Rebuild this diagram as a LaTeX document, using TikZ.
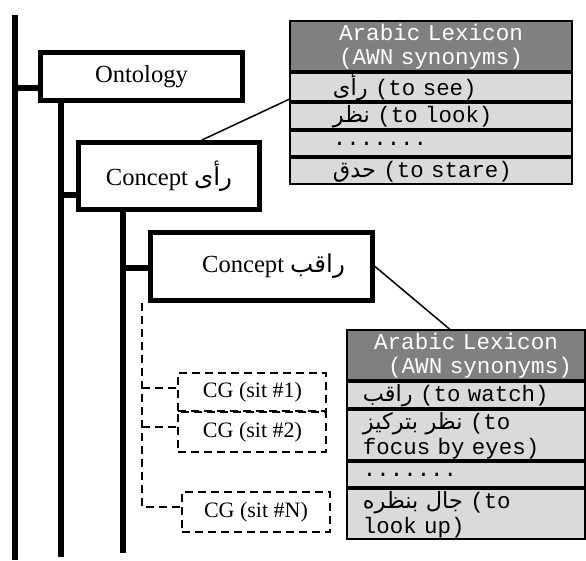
\documentclass[tikz,border=0pt]{standalone}
\usepackage{fontspec}
\setmainfont{Liberation Serif}
\setmonofont{Liberation Mono}
\newfontfamily\arabicfont[Script=Arabic]{DejaVu Sans}
\TeXXeTstate=1
\usetikzlibrary{positioning}
\definecolor{headgray}{RGB}{128,128,128}
\definecolor{rowgray}{RGB}{218,218,218}
\newcommand{\arword}[1]{{\arabicfont\beginR #1\endR}}

\tikzset{
  stem/.style={line width=3pt},
  conceptbox/.style={draw, line width=2.5pt, fill=white, inner sep=0pt, font=\fontsize{12.3}{14}\selectfont},
  cglink/.style={dash pattern=on 4pt off 2.5pt, line width=1pt},
  cgbox/.style={draw, cglink, inner sep=0pt, minimum width=74pt, font=\fontsize{11}{13}\selectfont},
  lexlink/.style={line width=0.75pt},
  lexhead/.style={draw, line width=1pt, fill=headgray, text=white, inner sep=0pt, align=center, minimum height=25pt, font=\ttfamily\fontsize{11.3}{12}\selectfont},
  lexrow/.style={draw, line width=1pt, fill=rowgray, inner ysep=0pt, align=left, font=\ttfamily\fontsize{11.2}{12.5}\selectfont}
}

\begin{document}
\begin{tikzpicture}[x=0.5pt, y=-0.5pt]
	\useasboundingbox (0,0) rectangle (586,561);

	% concept boxes
	\node[conceptbox, minimum width=101pt, minimum height=24pt] (ontology) at (141.5,76.5) {Ontology};
	\node[conceptbox, minimum width=90.5pt, minimum height=33.5pt] (concept1) at (169,176) {Concept \arword{رأى}};
	\node[conceptbox, minimum width=111pt, minimum height=34pt] (raqib) at (261.5,266.5) {\hspace*{12pt}Concept \arword{راقب}};

	% bars and stubs
	\coordinate (barAtop) at (15,15);
	\coordinate (barAbot) at (15,560);
	\coordinate (stubA) at (15,88);
	\coordinate (barBbot) at (61.5,557);
	\coordinate (stubB) at (61.5,195);
	\coordinate (barCbot) at (123,553);
	\coordinate (stubC) at (123,268);
	\draw[stem] (barAtop) -- (barAbot);
	\draw[stem] (stubA) -- (ontology.west |- stubA);
	\draw[stem] (ontology.south -| barBbot) -- (barBbot);
	\draw[stem] (stubB) -- (concept1.west |- stubB);
	\draw[stem] (concept1.south -| barCbot) -- (barCbot);
	\draw[stem] (stubC) -- (raqib.west |- stubC);

	% conceptual graphs
	\node[cgbox, minimum height=19pt] (cg1) at (252.5,392.5) {CG (sit \#1)};
	\node[cgbox, minimum height=20pt] (cg2) at (252.5,432.5) {CG (sit \#2)};
	\node[cgbox, minimum height=20pt] (cgN) at (256,512.5) {CG (sit \#N)};
	\coordinate (cgtop) at (142,303);
	\coordinate (cgA) at (142,388);
	\coordinate (cgB) at (142,427);
	\coordinate (cgbot) at (142,507);
	\draw[cglink] (cgtop) -- (cgbot) -- (cgN.west |- cgbot);
	\draw[cglink] (cgA) -- (cg1.west |- cgA);
	\draw[cglink] (cgB) -- (cg2.west |- cgB);

	% first lexicon
	\node[lexhead, text width=141pt, anchor=north] (lexAhead) at (431,20.5) {Arabic Lexicon\\(AWN synonyms)};
	\node[lexrow, inner xsep=21.5pt, text width=98pt, minimum height=13pt, below=0pt of lexAhead] (lexArow1) {\arword{رأى} (to see)};
	\node[lexrow, inner xsep=21.5pt, text width=98pt, minimum height=13pt, below=0pt of lexArow1] (lexArow2) {\arword{نظر} (to look)};
	\node[lexrow, inner xsep=21.5pt, text width=98pt, minimum height=12.5pt, below=0pt of lexArow2] (lexArow3) {.......};
	\node[lexrow, inner xsep=21.5pt, text width=98pt, minimum height=13pt, below=0pt of lexArow3] (lexArow4) {\arword{حدق} (to stare)};
	\draw[lexlink] ([xshift=16.5pt]concept1.north) -- ([yshift=1.5pt]lexArow1.south west);

	% second lexicon
	\node[lexhead, text width=119pt, anchor=north] (lexBhead) at (466,329.5) {Arabic Lexicon\\\hspace*{14pt}(AWN synonyms)};
	\node[lexrow, inner xsep=8pt, text width=103pt, minimum height=13pt, below=0pt of lexBhead] (lexBrow1) {\arword{راقب} (to watch)};
	\node[lexrow, inner xsep=8pt, text width=103pt, minimum height=25pt, below=0pt of lexBrow1] (lexBrow2) {\arword{نظر بتركيز} (to\\focus by eyes)};
	\node[lexrow, inner xsep=8pt, text width=103pt, minimum height=12.5pt, below=0pt of lexBrow2] (lexBrow3) {.......};
	\node[lexrow, inner xsep=8pt, text width=103pt, minimum height=25pt, below=0pt of lexBrow3] (lexBrow4) {\arword{جال بنظره} (to\\look up)};
	\draw[lexlink] (raqib.east) -- ([xshift=-8pt]lexBhead.north);
\end{tikzpicture}
\end{document}
